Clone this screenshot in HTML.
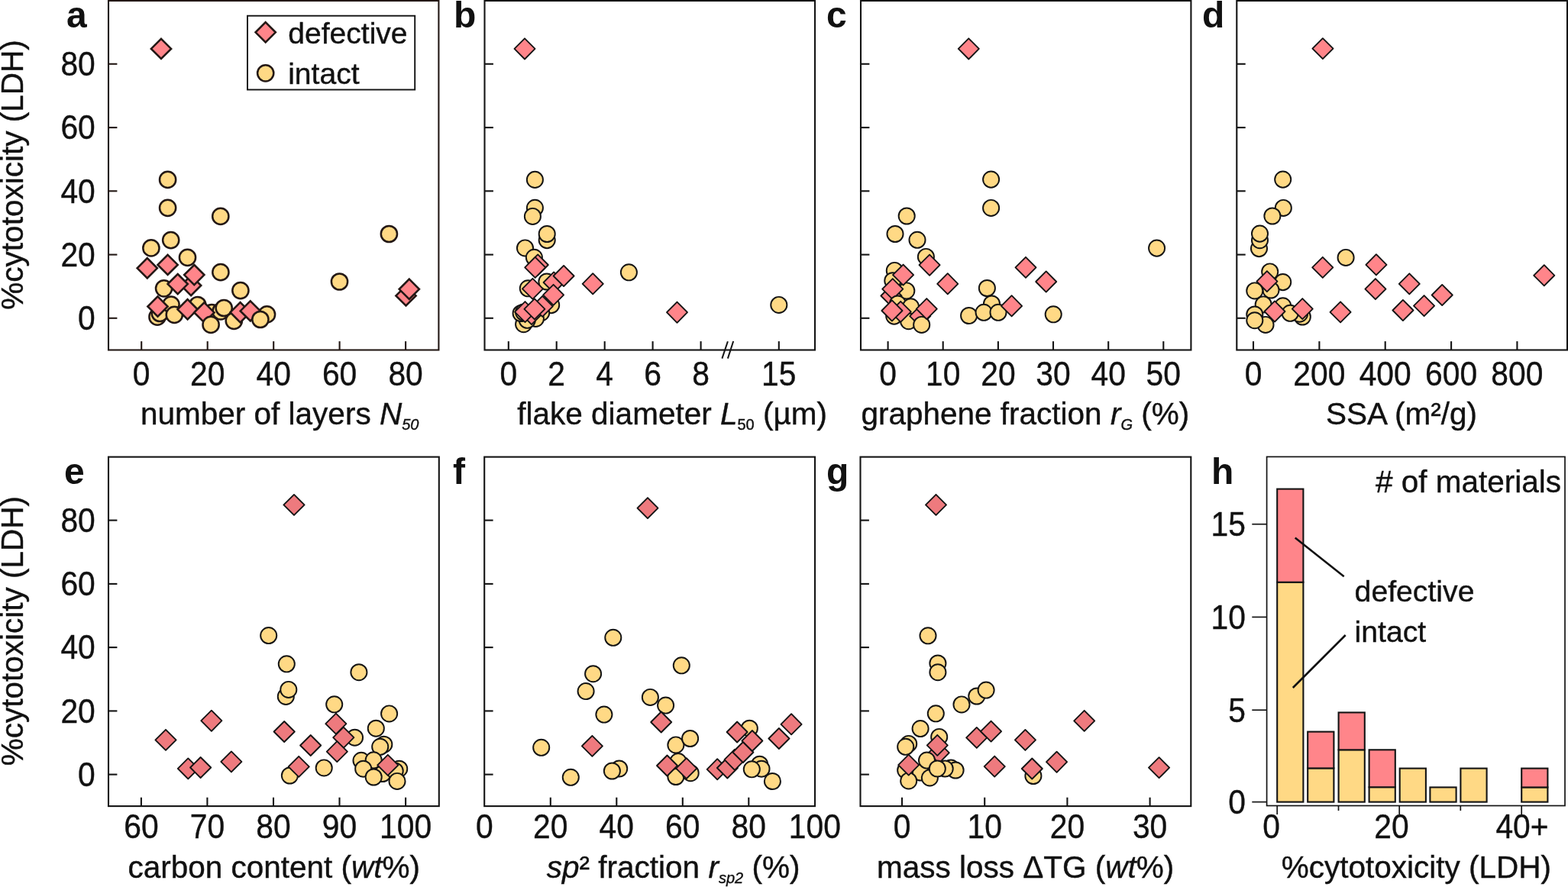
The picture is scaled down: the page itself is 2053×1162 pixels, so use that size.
<!DOCTYPE html>
<html><head><meta charset="utf-8"><title>Figure</title>
<style>
html,body{margin:0;padding:0;background:#fff;}
body{width:2053px;height:1162px;overflow:hidden;}
svg{display:block;}
text{font-family:"Liberation Sans",Arial,sans-serif;fill:#111111;stroke:#111111;stroke-width:0.4px;}
</style></head>
<body>
<svg width="2053" height="1162" viewBox="0 0 2053 1162">
<rect width="2053" height="1162" fill="#fff"/>
<rect x="142.0" y="1.0" width="432.4" height="457.5" fill="none" stroke="#231815" stroke-width="2.1"/>
<line x1="142.0" y1="416.8" x2="153.4" y2="416.8" stroke="#231815" stroke-width="2.1"/>
<line x1="142.0" y1="333.6" x2="153.4" y2="333.6" stroke="#231815" stroke-width="2.1"/>
<line x1="142.0" y1="250.3" x2="153.4" y2="250.3" stroke="#231815" stroke-width="2.1"/>
<line x1="142.0" y1="167.1" x2="153.4" y2="167.1" stroke="#231815" stroke-width="2.1"/>
<line x1="142.0" y1="83.8" x2="153.4" y2="83.8" stroke="#231815" stroke-width="2.1"/>
<rect x="634.5" y="1.0" width="432.5" height="457.5" fill="none" stroke="#141414" stroke-width="2.1"/>
<line x1="634.5" y1="416.8" x2="645.9" y2="416.8" stroke="#141414" stroke-width="2.1"/>
<line x1="634.5" y1="333.6" x2="645.9" y2="333.6" stroke="#141414" stroke-width="2.1"/>
<line x1="634.5" y1="250.3" x2="645.9" y2="250.3" stroke="#141414" stroke-width="2.1"/>
<line x1="634.5" y1="167.1" x2="645.9" y2="167.1" stroke="#141414" stroke-width="2.1"/>
<line x1="634.5" y1="83.8" x2="645.9" y2="83.8" stroke="#141414" stroke-width="2.1"/>
<rect x="1127.0" y="1.0" width="432.4" height="457.5" fill="none" stroke="#141414" stroke-width="2.1"/>
<line x1="1127.0" y1="416.8" x2="1138.4" y2="416.8" stroke="#141414" stroke-width="2.1"/>
<line x1="1127.0" y1="333.6" x2="1138.4" y2="333.6" stroke="#141414" stroke-width="2.1"/>
<line x1="1127.0" y1="250.3" x2="1138.4" y2="250.3" stroke="#141414" stroke-width="2.1"/>
<line x1="1127.0" y1="167.1" x2="1138.4" y2="167.1" stroke="#141414" stroke-width="2.1"/>
<line x1="1127.0" y1="83.8" x2="1138.4" y2="83.8" stroke="#141414" stroke-width="2.1"/>
<rect x="1619.3" y="1.0" width="432.7" height="457.5" fill="none" stroke="#141414" stroke-width="2.1"/>
<line x1="1619.3" y1="416.8" x2="1630.7" y2="416.8" stroke="#141414" stroke-width="2.1"/>
<line x1="1619.3" y1="333.6" x2="1630.7" y2="333.6" stroke="#141414" stroke-width="2.1"/>
<line x1="1619.3" y1="250.3" x2="1630.7" y2="250.3" stroke="#141414" stroke-width="2.1"/>
<line x1="1619.3" y1="167.1" x2="1630.7" y2="167.1" stroke="#141414" stroke-width="2.1"/>
<line x1="1619.3" y1="83.8" x2="1630.7" y2="83.8" stroke="#141414" stroke-width="2.1"/>
<rect x="142.0" y="598.6" width="432.8" height="457.5" fill="none" stroke="#141414" stroke-width="2.1"/>
<line x1="142.0" y1="1014.6" x2="153.4" y2="1014.6" stroke="#141414" stroke-width="2.1"/>
<line x1="142.0" y1="931.4" x2="153.4" y2="931.4" stroke="#141414" stroke-width="2.1"/>
<line x1="142.0" y1="848.1" x2="153.4" y2="848.1" stroke="#141414" stroke-width="2.1"/>
<line x1="142.0" y1="764.9" x2="153.4" y2="764.9" stroke="#141414" stroke-width="2.1"/>
<line x1="142.0" y1="681.6" x2="153.4" y2="681.6" stroke="#141414" stroke-width="2.1"/>
<rect x="634.2" y="598.6" width="432.8" height="457.5" fill="none" stroke="#141414" stroke-width="2.1"/>
<line x1="634.2" y1="1014.6" x2="645.6" y2="1014.6" stroke="#141414" stroke-width="2.1"/>
<line x1="634.2" y1="931.4" x2="645.6" y2="931.4" stroke="#141414" stroke-width="2.1"/>
<line x1="634.2" y1="848.1" x2="645.6" y2="848.1" stroke="#141414" stroke-width="2.1"/>
<line x1="634.2" y1="764.9" x2="645.6" y2="764.9" stroke="#141414" stroke-width="2.1"/>
<line x1="634.2" y1="681.6" x2="645.6" y2="681.6" stroke="#141414" stroke-width="2.1"/>
<rect x="1126.5" y="598.6" width="432.8" height="457.5" fill="none" stroke="#141414" stroke-width="2.1"/>
<line x1="1126.5" y1="1014.6" x2="1137.9" y2="1014.6" stroke="#141414" stroke-width="2.1"/>
<line x1="1126.5" y1="931.4" x2="1137.9" y2="931.4" stroke="#141414" stroke-width="2.1"/>
<line x1="1126.5" y1="848.1" x2="1137.9" y2="848.1" stroke="#141414" stroke-width="2.1"/>
<line x1="1126.5" y1="764.9" x2="1137.9" y2="764.9" stroke="#141414" stroke-width="2.1"/>
<line x1="1126.5" y1="681.6" x2="1137.9" y2="681.6" stroke="#141414" stroke-width="2.1"/>
<line x1="185.2" y1="458.5" x2="185.2" y2="447.1" stroke="#231815" stroke-width="2.1"/>
<text transform="translate(185.2,504.6) scale(0.932,1)" text-anchor="middle" font-size="43.8">0</text>
<line x1="271.7" y1="458.5" x2="271.7" y2="447.1" stroke="#231815" stroke-width="2.1"/>
<text transform="translate(271.7,504.6) scale(0.932,1)" text-anchor="middle" font-size="43.8">20</text>
<line x1="358.2" y1="458.5" x2="358.2" y2="447.1" stroke="#231815" stroke-width="2.1"/>
<text transform="translate(358.2,504.6) scale(0.932,1)" text-anchor="middle" font-size="43.8">40</text>
<line x1="444.6" y1="458.5" x2="444.6" y2="447.1" stroke="#231815" stroke-width="2.1"/>
<text transform="translate(444.6,504.6) scale(0.932,1)" text-anchor="middle" font-size="43.8">60</text>
<line x1="531.1" y1="458.5" x2="531.1" y2="447.1" stroke="#231815" stroke-width="2.1"/>
<text transform="translate(531.1,504.6) scale(0.932,1)" text-anchor="middle" font-size="43.8">80</text>
<line x1="665.8" y1="458.5" x2="665.8" y2="447.1" stroke="#141414" stroke-width="2.1"/>
<text transform="translate(665.8,504.6) scale(0.932,1)" text-anchor="middle" font-size="43.8">0</text>
<line x1="728.7" y1="458.5" x2="728.7" y2="447.1" stroke="#141414" stroke-width="2.1"/>
<text transform="translate(728.7,504.6) scale(0.932,1)" text-anchor="middle" font-size="43.8">2</text>
<line x1="791.7" y1="458.5" x2="791.7" y2="447.1" stroke="#141414" stroke-width="2.1"/>
<text transform="translate(791.7,504.6) scale(0.932,1)" text-anchor="middle" font-size="43.8">4</text>
<line x1="854.6" y1="458.5" x2="854.6" y2="447.1" stroke="#141414" stroke-width="2.1"/>
<text transform="translate(854.6,504.6) scale(0.932,1)" text-anchor="middle" font-size="43.8">6</text>
<line x1="917.6" y1="458.5" x2="917.6" y2="447.1" stroke="#141414" stroke-width="2.1"/>
<text transform="translate(917.6,504.6) scale(0.932,1)" text-anchor="middle" font-size="43.8">8</text>
<line x1="1019.8" y1="458.5" x2="1019.8" y2="447.1" stroke="#141414" stroke-width="2.1"/>
<text transform="translate(1019.8,504.6) scale(0.932,1)" text-anchor="middle" font-size="43.8">15</text>
<line x1="1162.6" y1="458.5" x2="1162.6" y2="447.1" stroke="#141414" stroke-width="2.1"/>
<text transform="translate(1162.6,504.6) scale(0.932,1)" text-anchor="middle" font-size="43.8">0</text>
<line x1="1234.7" y1="458.5" x2="1234.7" y2="447.1" stroke="#141414" stroke-width="2.1"/>
<text transform="translate(1234.7,504.6) scale(0.932,1)" text-anchor="middle" font-size="43.8">10</text>
<line x1="1306.9" y1="458.5" x2="1306.9" y2="447.1" stroke="#141414" stroke-width="2.1"/>
<text transform="translate(1306.9,504.6) scale(0.932,1)" text-anchor="middle" font-size="43.8">20</text>
<line x1="1379.0" y1="458.5" x2="1379.0" y2="447.1" stroke="#141414" stroke-width="2.1"/>
<text transform="translate(1379.0,504.6) scale(0.932,1)" text-anchor="middle" font-size="43.8">30</text>
<line x1="1451.2" y1="458.5" x2="1451.2" y2="447.1" stroke="#141414" stroke-width="2.1"/>
<text transform="translate(1451.2,504.6) scale(0.932,1)" text-anchor="middle" font-size="43.8">40</text>
<line x1="1523.3" y1="458.5" x2="1523.3" y2="447.1" stroke="#141414" stroke-width="2.1"/>
<text transform="translate(1523.3,504.6) scale(0.932,1)" text-anchor="middle" font-size="43.8">50</text>
<line x1="1641.0" y1="458.5" x2="1641.0" y2="447.1" stroke="#141414" stroke-width="2.1"/>
<text transform="translate(1641.0,504.6) scale(0.932,1)" text-anchor="middle" font-size="43.8">0</text>
<line x1="1727.4" y1="458.5" x2="1727.4" y2="447.1" stroke="#141414" stroke-width="2.1"/>
<text transform="translate(1727.4,504.6) scale(0.932,1)" text-anchor="middle" font-size="43.8">200</text>
<line x1="1813.7" y1="458.5" x2="1813.7" y2="447.1" stroke="#141414" stroke-width="2.1"/>
<text transform="translate(1813.7,504.6) scale(0.932,1)" text-anchor="middle" font-size="43.8">400</text>
<line x1="1900.1" y1="458.5" x2="1900.1" y2="447.1" stroke="#141414" stroke-width="2.1"/>
<text transform="translate(1900.1,504.6) scale(0.932,1)" text-anchor="middle" font-size="43.8">600</text>
<line x1="1986.4" y1="458.5" x2="1986.4" y2="447.1" stroke="#141414" stroke-width="2.1"/>
<text transform="translate(1986.4,504.6) scale(0.932,1)" text-anchor="middle" font-size="43.8">800</text>
<line x1="184.9" y1="1056.1" x2="184.9" y2="1044.6999999999998" stroke="#141414" stroke-width="2.1"/>
<text transform="translate(184.9,1098.2) scale(0.932,1)" text-anchor="middle" font-size="43.8">60</text>
<line x1="271.4" y1="1056.1" x2="271.4" y2="1044.6999999999998" stroke="#141414" stroke-width="2.1"/>
<text transform="translate(271.4,1098.2) scale(0.932,1)" text-anchor="middle" font-size="43.8">70</text>
<line x1="358.0" y1="1056.1" x2="358.0" y2="1044.6999999999998" stroke="#141414" stroke-width="2.1"/>
<text transform="translate(358.0,1098.2) scale(0.932,1)" text-anchor="middle" font-size="43.8">80</text>
<line x1="444.5" y1="1056.1" x2="444.5" y2="1044.6999999999998" stroke="#141414" stroke-width="2.1"/>
<text transform="translate(444.5,1098.2) scale(0.932,1)" text-anchor="middle" font-size="43.8">90</text>
<line x1="531.1" y1="1056.1" x2="531.1" y2="1044.6999999999998" stroke="#141414" stroke-width="2.1"/>
<text transform="translate(531.1,1098.2) scale(0.932,1)" text-anchor="middle" font-size="43.8">100</text>
<text transform="translate(634.3,1098.2) scale(0.932,1)" text-anchor="middle" font-size="43.8">0</text>
<line x1="720.8" y1="1056.1" x2="720.8" y2="1044.6999999999998" stroke="#141414" stroke-width="2.1"/>
<text transform="translate(720.8,1098.2) scale(0.932,1)" text-anchor="middle" font-size="43.8">20</text>
<line x1="807.3" y1="1056.1" x2="807.3" y2="1044.6999999999998" stroke="#141414" stroke-width="2.1"/>
<text transform="translate(807.3,1098.2) scale(0.932,1)" text-anchor="middle" font-size="43.8">40</text>
<line x1="893.8" y1="1056.1" x2="893.8" y2="1044.6999999999998" stroke="#141414" stroke-width="2.1"/>
<text transform="translate(893.8,1098.2) scale(0.932,1)" text-anchor="middle" font-size="43.8">60</text>
<line x1="980.3" y1="1056.1" x2="980.3" y2="1044.6999999999998" stroke="#141414" stroke-width="2.1"/>
<text transform="translate(980.3,1098.2) scale(0.932,1)" text-anchor="middle" font-size="43.8">80</text>
<text transform="translate(1066.8,1098.2) scale(0.932,1)" text-anchor="middle" font-size="43.8">100</text>
<line x1="1181.0" y1="1056.1" x2="1181.0" y2="1044.6999999999998" stroke="#141414" stroke-width="2.1"/>
<text transform="translate(1181.0,1098.2) scale(0.932,1)" text-anchor="middle" font-size="43.8">0</text>
<line x1="1289.2" y1="1056.1" x2="1289.2" y2="1044.6999999999998" stroke="#141414" stroke-width="2.1"/>
<text transform="translate(1289.2,1098.2) scale(0.932,1)" text-anchor="middle" font-size="43.8">10</text>
<line x1="1397.4" y1="1056.1" x2="1397.4" y2="1044.6999999999998" stroke="#141414" stroke-width="2.1"/>
<text transform="translate(1397.4,1098.2) scale(0.932,1)" text-anchor="middle" font-size="43.8">20</text>
<line x1="1505.6" y1="1056.1" x2="1505.6" y2="1044.6999999999998" stroke="#141414" stroke-width="2.1"/>
<text transform="translate(1505.6,1098.2) scale(0.932,1)" text-anchor="middle" font-size="43.8">30</text>
<text transform="translate(124.8,432.1) scale(0.932,1)" text-anchor="end" font-size="43.8">0</text>
<text transform="translate(124.8,348.9) scale(0.932,1)" text-anchor="end" font-size="43.8">20</text>
<text transform="translate(124.8,265.6) scale(0.932,1)" text-anchor="end" font-size="43.8">40</text>
<text transform="translate(124.8,182.4) scale(0.932,1)" text-anchor="end" font-size="43.8">60</text>
<text transform="translate(124.8,99.1) scale(0.932,1)" text-anchor="end" font-size="43.8">80</text>
<text transform="translate(124.8,1029.9) scale(0.932,1)" text-anchor="end" font-size="43.8">0</text>
<text transform="translate(124.8,946.6) scale(0.932,1)" text-anchor="end" font-size="43.8">20</text>
<text transform="translate(124.8,863.4) scale(0.932,1)" text-anchor="end" font-size="43.8">40</text>
<text transform="translate(124.8,780.1) scale(0.932,1)" text-anchor="end" font-size="43.8">60</text>
<text transform="translate(124.8,696.9) scale(0.932,1)" text-anchor="end" font-size="43.8">80</text>
<text transform="translate(29.9,229) rotate(-90)" text-anchor="middle" font-size="40.5">%cytotoxicity (LDH)</text>
<text transform="translate(29.9,826.6) rotate(-90)" text-anchor="middle" font-size="40.5">%cytotoxicity (LDH)</text>
<text x="184" y="555.9" font-size="40.5">number of layers <tspan font-style="italic">N</tspan><tspan font-style="italic" font-size="20" dy="7">50</tspan></text>
<text x="677.3" y="555.5" font-size="40.5">flake diameter <tspan font-style="italic">L</tspan><tspan font-size="20" dy="7">50</tspan><tspan dy="-7"> (µm)</tspan></text>
<text x="1127.4" y="556.2" font-size="40.5">graphene fraction <tspan font-style="italic">r</tspan><tspan font-style="italic" font-size="20" dy="7">G</tspan><tspan dy="-7"> (%)</tspan></text>
<text x="1736" y="556.2" font-size="40.5">SSA (m²/g)</text>
<text x="167.4" y="1149.6" font-size="40.5">carbon content (<tspan font-style="italic">wt</tspan>%)</text>
<text x="715.8" y="1149.9" font-size="40.5"><tspan font-style="italic">sp</tspan>² fraction <tspan font-style="italic">r</tspan><tspan font-style="italic" font-size="20" dy="7">sp2</tspan><tspan dy="-7"> (%)</tspan></text>
<text x="1148" y="1149.6" font-size="40.5">mass loss ΔTG (<tspan font-style="italic">wt</tspan>%)</text>
<text x="1677.8" y="1149.8" font-size="40.5">%cytotoxicity (LDH)</text>
<text x="87" y="35.6" font-size="48" font-weight="bold" style="stroke:none">a</text>
<text x="594" y="35.6" font-size="48" font-weight="bold" style="stroke:none">b</text>
<text x="1082" y="35.6" font-size="48" font-weight="bold" style="stroke:none">c</text>
<text x="1574" y="35.6" font-size="48" font-weight="bold" style="stroke:none">d</text>
<text x="84" y="633.5" font-size="48" font-weight="bold" style="stroke:none">e</text>
<text x="593" y="633.5" font-size="48" font-weight="bold" style="stroke:none">f</text>
<text x="1082" y="633.5" font-size="48" font-weight="bold" style="stroke:none">g</text>
<text x="1586" y="633.5" font-size="48" font-weight="bold" style="stroke:none">h</text>
<rect x="1658.6" y="598.4" width="390.4" height="457.1" fill="none" stroke="#141414" stroke-width="1.7"/>
<line x1="1639.3" y1="1050.6" x2="1658.6" y2="1050.6" stroke="#141414" stroke-width="1.7"/>
<text transform="translate(1631.0,1065.9) scale(0.932,1)" text-anchor="end" font-size="43.8">0</text>
<line x1="1639.3" y1="930.2" x2="1658.6" y2="930.2" stroke="#141414" stroke-width="1.7"/>
<text transform="translate(1631.0,945.5) scale(0.932,1)" text-anchor="end" font-size="43.8">5</text>
<line x1="1639.3" y1="808.4" x2="1658.6" y2="808.4" stroke="#141414" stroke-width="1.7"/>
<text transform="translate(1631.0,823.7) scale(0.932,1)" text-anchor="end" font-size="43.8">10</text>
<line x1="1639.3" y1="686.7" x2="1658.6" y2="686.7" stroke="#141414" stroke-width="1.7"/>
<text transform="translate(1631.0,702.0) scale(0.932,1)" text-anchor="end" font-size="43.8">15</text>
<line x1="1672.2" y1="1055.5" x2="1672.2" y2="1067.0" stroke="#141414" stroke-width="1.7"/>
<line x1="1752.5" y1="1055.5" x2="1752.5" y2="1062.0" stroke="#141414" stroke-width="1.7"/>
<line x1="1832.2" y1="1055.5" x2="1832.2" y2="1067.0" stroke="#141414" stroke-width="1.7"/>
<line x1="1912.3" y1="1055.5" x2="1912.3" y2="1062.0" stroke="#141414" stroke-width="1.7"/>
<line x1="1992.2" y1="1055.5" x2="1992.2" y2="1067.0" stroke="#141414" stroke-width="1.7"/>
<text transform="translate(1664.5,1097.9) scale(0.932,1)" text-anchor="middle" font-size="43.8">0</text>
<text transform="translate(1822.0,1097.9) scale(0.932,1)" text-anchor="middle" font-size="43.8">20</text>
<text transform="translate(1993.0,1097.9) scale(0.932,1)" text-anchor="middle" font-size="43.8">40+</text>
<rect x="1672.2" y="762.7" width="34.2" height="287.9" fill="#FFD985" stroke="#141414" stroke-width="2.1"/>
<rect x="1672.2" y="640.6" width="34.2" height="122.1" fill="#FF858A" stroke="#141414" stroke-width="2.1"/>
<rect x="1712.2" y="1006.4" width="34.2" height="44.2" fill="#FFD985" stroke="#141414" stroke-width="2.1"/>
<rect x="1712.2" y="958.6" width="34.2" height="47.8" fill="#FF858A" stroke="#141414" stroke-width="2.1"/>
<rect x="1752.6" y="982.3" width="34.2" height="68.3" fill="#FFD985" stroke="#141414" stroke-width="2.1"/>
<rect x="1752.6" y="933.4" width="34.2" height="48.9" fill="#FF858A" stroke="#141414" stroke-width="2.1"/>
<rect x="1792.6" y="1031.2" width="34.2" height="19.4" fill="#FFD985" stroke="#141414" stroke-width="2.1"/>
<rect x="1792.6" y="982.3" width="34.2" height="48.9" fill="#FF858A" stroke="#141414" stroke-width="2.1"/>
<rect x="1832.7" y="1006.6" width="34.2" height="44.0" fill="#FFD985" stroke="#141414" stroke-width="2.1"/>
<rect x="1872.4" y="1031.4" width="34.2" height="19.2" fill="#FFD985" stroke="#141414" stroke-width="2.1"/>
<rect x="1912.4" y="1006.6" width="34.2" height="44.0" fill="#FFD985" stroke="#141414" stroke-width="2.1"/>
<rect x="1992.2" y="1031.4" width="34.2" height="19.2" fill="#FFD985" stroke="#141414" stroke-width="2.1"/>
<rect x="1992.2" y="1006.6" width="34.2" height="24.8" fill="#FF858A" stroke="#141414" stroke-width="2.1"/>
<line x1="1695.7" y1="704.6" x2="1759.7" y2="755.2" stroke="#111111" stroke-width="2.6"/>
<line x1="1761.7" y1="832" x2="1692.8" y2="901" stroke="#111111" stroke-width="2.6"/>
<text x="1773.6" y="787.5" font-size="39.2">defective</text>
<text x="1773.6" y="840.7" font-size="39.2">intact</text>
<text x="1801" y="645.2" font-size="40.5"># of materials</text>
<circle cx="219.6" cy="235.4" r="10.6" fill="#FFD985" stroke="#231815" stroke-width="2.5"/>
<circle cx="219.6" cy="272.3" r="10.6" fill="#FFD985" stroke="#231815" stroke-width="2.5"/>
<circle cx="288.8" cy="283.4" r="10.6" fill="#FFD985" stroke="#231815" stroke-width="2.5"/>
<circle cx="509.4" cy="306.5" r="10.6" fill="#FFD985" stroke="#231815" stroke-width="2.5"/>
<circle cx="223.7" cy="314.6" r="10.6" fill="#FFD985" stroke="#231815" stroke-width="2.5"/>
<circle cx="197.9" cy="324.9" r="10.6" fill="#FFD985" stroke="#231815" stroke-width="2.5"/>
<circle cx="245.5" cy="337.3" r="10.6" fill="#FFD985" stroke="#231815" stroke-width="2.5"/>
<circle cx="288.9" cy="356.7" r="10.6" fill="#FFD985" stroke="#231815" stroke-width="2.5"/>
<circle cx="444.5" cy="369.0" r="10.6" fill="#FFD985" stroke="#231815" stroke-width="2.5"/>
<path d="M192.8 338.2L205.9 351.3L192.8 364.4L179.7 351.3Z" fill="#FF858A" stroke="#231815" stroke-width="2.6" stroke-linejoin="miter"/>
<path d="M219.6 333.8L232.7 346.9L219.6 360.0L206.5 346.9Z" fill="#FF858A" stroke="#231815" stroke-width="2.6" stroke-linejoin="miter"/>
<circle cx="314.9" cy="380.6" r="10.6" fill="#FFD985" stroke="#231815" stroke-width="2.5"/>
<path d="M250.1 360.9L263.2 374.0L250.1 387.1L237.0 374.0Z" fill="#FF858A" stroke="#231815" stroke-width="2.6" stroke-linejoin="miter"/>
<path d="M254.3 347.0L267.4 360.1L254.3 373.2L241.2 360.1Z" fill="#FF858A" stroke="#231815" stroke-width="2.6" stroke-linejoin="miter"/>
<circle cx="214.6" cy="377.8" r="10.6" fill="#FFD985" stroke="#231815" stroke-width="2.5"/>
<path d="M232.7 359.0L245.8 372.1L232.7 385.2L219.6 372.1Z" fill="#FF858A" stroke="#231815" stroke-width="2.6" stroke-linejoin="miter"/>
<circle cx="206.0" cy="415.2" r="10.6" fill="#FFD985" stroke="#231815" stroke-width="2.5"/>
<circle cx="209.3" cy="410.5" r="10.6" fill="#FFD985" stroke="#231815" stroke-width="2.5"/>
<circle cx="224.0" cy="399.1" r="10.6" fill="#FFD985" stroke="#231815" stroke-width="2.5"/>
<circle cx="228.3" cy="412.4" r="10.6" fill="#FFD985" stroke="#231815" stroke-width="2.5"/>
<path d="M206.5 388.4L219.6 401.5L206.5 414.6L193.4 401.5Z" fill="#FF858A" stroke="#231815" stroke-width="2.6" stroke-linejoin="miter"/>
<circle cx="258.8" cy="399.5" r="10.6" fill="#FFD985" stroke="#231815" stroke-width="2.5"/>
<circle cx="277.2" cy="409.7" r="10.6" fill="#FFD985" stroke="#231815" stroke-width="2.5"/>
<circle cx="289.0" cy="407.9" r="10.6" fill="#FFD985" stroke="#231815" stroke-width="2.5"/>
<path d="M245.6 392.2L258.7 405.3L245.6 418.4L232.5 405.3Z" fill="#FF858A" stroke="#231815" stroke-width="2.6" stroke-linejoin="miter"/>
<path d="M267.4 396.3L280.5 409.4L267.4 422.5L254.3 409.4Z" fill="#FF858A" stroke="#231815" stroke-width="2.6" stroke-linejoin="miter"/>
<circle cx="293.2" cy="403.5" r="10.6" fill="#FFD985" stroke="#231815" stroke-width="2.5"/>
<circle cx="276.1" cy="425.4" r="10.6" fill="#FFD985" stroke="#231815" stroke-width="2.5"/>
<circle cx="306.3" cy="420.3" r="10.6" fill="#FFD985" stroke="#231815" stroke-width="2.5"/>
<path d="M314.6 396.1L327.7 409.2L314.6 422.3L301.5 409.2Z" fill="#FF858A" stroke="#231815" stroke-width="2.6" stroke-linejoin="miter"/>
<circle cx="349.5" cy="411.9" r="10.6" fill="#FFD985" stroke="#231815" stroke-width="2.5"/>
<path d="M327.8 394.3L340.9 407.4L327.8 420.5L314.7 407.4Z" fill="#FF858A" stroke="#231815" stroke-width="2.6" stroke-linejoin="miter"/>
<circle cx="340.9" cy="418.5" r="10.6" fill="#FFD985" stroke="#231815" stroke-width="2.5"/>
<path d="M531.5 374.3L544.6 387.4L531.5 400.5L518.4 387.4Z" fill="#FF858A" stroke="#231815" stroke-width="2.6" stroke-linejoin="miter"/>
<path d="M535.8 365.7L548.9 378.8L535.8 391.9L522.7 378.8Z" fill="#FF858A" stroke="#231815" stroke-width="2.6" stroke-linejoin="miter"/>
<path d="M211.0 50.8L224.1 63.9L211.0 77.0L197.9 63.9Z" fill="#FF858A" stroke="#231815" stroke-width="2.6" stroke-linejoin="miter"/>
<circle cx="700.4" cy="235.4" r="10.55" fill="#FFD985" stroke="#141414" stroke-width="1.95"/>
<circle cx="700.4" cy="272.3" r="10.55" fill="#FFD985" stroke="#141414" stroke-width="1.95"/>
<circle cx="697.4" cy="283.4" r="10.55" fill="#FFD985" stroke="#141414" stroke-width="1.95"/>
<circle cx="716.2" cy="314.6" r="10.55" fill="#FFD985" stroke="#141414" stroke-width="1.95"/>
<circle cx="716.2" cy="306.5" r="10.55" fill="#FFD985" stroke="#141414" stroke-width="1.95"/>
<circle cx="687.5" cy="324.9" r="10.55" fill="#FFD985" stroke="#141414" stroke-width="1.95"/>
<circle cx="699.4" cy="337.3" r="10.55" fill="#FFD985" stroke="#141414" stroke-width="1.95"/>
<circle cx="823.4" cy="356.8" r="10.55" fill="#FFD985" stroke="#141414" stroke-width="1.95"/>
<circle cx="1019.8" cy="399.4" r="10.55" fill="#FFD985" stroke="#141414" stroke-width="1.95"/>
<path d="M704.2 333.4L717.8 347.0L704.2 360.6L690.7 347.0Z" fill="#FF858A" stroke="#141414" stroke-width="1.9" stroke-linejoin="round"/>
<path d="M700.7 336.8L714.2 350.4L700.7 363.9L687.2 350.4Z" fill="#FF858A" stroke="#141414" stroke-width="1.9" stroke-linejoin="round"/>
<circle cx="715.9" cy="369.0" r="10.55" fill="#FFD985" stroke="#141414" stroke-width="1.95"/>
<circle cx="691.3" cy="377.8" r="10.55" fill="#FFD985" stroke="#141414" stroke-width="1.95"/>
<path d="M725.1 356.4L738.6 370.0L725.1 383.6L711.6 370.0Z" fill="#FF858A" stroke="#141414" stroke-width="1.9" stroke-linejoin="round"/>
<path d="M738.1 347.9L751.6 361.5L738.1 375.1L724.6 361.5Z" fill="#FF858A" stroke="#141414" stroke-width="1.9" stroke-linejoin="round"/>
<path d="M697.4 364.8L710.9 378.3L697.4 391.9L683.9 378.3Z" fill="#FF858A" stroke="#141414" stroke-width="1.9" stroke-linejoin="round"/>
<circle cx="721.7" cy="399.6" r="10.55" fill="#FFD985" stroke="#141414" stroke-width="1.95"/>
<circle cx="708.7" cy="409.7" r="10.55" fill="#FFD985" stroke="#141414" stroke-width="1.95"/>
<circle cx="701.4" cy="417.4" r="10.55" fill="#FFD985" stroke="#141414" stroke-width="1.95"/>
<circle cx="685.6" cy="424.7" r="10.55" fill="#FFD985" stroke="#141414" stroke-width="1.95"/>
<circle cx="690.3" cy="419.3" r="10.55" fill="#FFD985" stroke="#141414" stroke-width="1.95"/>
<circle cx="682.1" cy="410.5" r="10.55" fill="#FFD985" stroke="#141414" stroke-width="1.95"/>
<circle cx="685.6" cy="409.1" r="10.55" fill="#FFD985" stroke="#141414" stroke-width="1.95"/>
<path d="M696.0 397.9L709.5 411.5L696.0 425.1L682.5 411.5Z" fill="#FF858A" stroke="#141414" stroke-width="1.9" stroke-linejoin="round"/>
<path d="M724.6 372.8L738.1 386.3L724.6 399.9L711.1 386.3Z" fill="#FF858A" stroke="#141414" stroke-width="1.9" stroke-linejoin="round"/>
<path d="M710.2 387.8L723.8 401.4L710.2 414.9L696.7 401.4Z" fill="#FF858A" stroke="#141414" stroke-width="1.9" stroke-linejoin="round"/>
<path d="M687.5 395.1L701.0 408.7L687.5 422.2L674.0 408.7Z" fill="#FF858A" stroke="#141414" stroke-width="1.9" stroke-linejoin="round"/>
<path d="M699.9 391.3L713.4 404.9L699.9 418.4L686.4 404.9Z" fill="#FF858A" stroke="#141414" stroke-width="1.9" stroke-linejoin="round"/>
<path d="M776.2 358.2L789.8 371.8L776.2 385.4L762.7 371.8Z" fill="#FF858A" stroke="#141414" stroke-width="1.9" stroke-linejoin="round"/>
<path d="M886.5 395.6L900.0 409.2L886.5 422.8L873.0 409.2Z" fill="#FF858A" stroke="#141414" stroke-width="1.9" stroke-linejoin="round"/>
<path d="M687.0 50.3L700.5 63.9L687.0 77.5L673.5 63.9Z" fill="#FF858A" stroke="#141414" stroke-width="1.9" stroke-linejoin="round"/>
<circle cx="1297.6" cy="235.1" r="10.55" fill="#FFD985" stroke="#141414" stroke-width="1.95"/>
<circle cx="1297.6" cy="272.4" r="10.55" fill="#FFD985" stroke="#141414" stroke-width="1.95"/>
<circle cx="1187.2" cy="283.0" r="10.55" fill="#FFD985" stroke="#141414" stroke-width="1.95"/>
<circle cx="1172.0" cy="306.5" r="10.55" fill="#FFD985" stroke="#141414" stroke-width="1.95"/>
<circle cx="1201.0" cy="314.3" r="10.55" fill="#FFD985" stroke="#141414" stroke-width="1.95"/>
<circle cx="1514.6" cy="325.1" r="10.55" fill="#FFD985" stroke="#141414" stroke-width="1.95"/>
<circle cx="1212.4" cy="336.4" r="10.55" fill="#FFD985" stroke="#141414" stroke-width="1.95"/>
<circle cx="1171.3" cy="354.4" r="10.55" fill="#FFD985" stroke="#141414" stroke-width="1.95"/>
<circle cx="1168.8" cy="367.7" r="10.55" fill="#FFD985" stroke="#141414" stroke-width="1.95"/>
<circle cx="1186.8" cy="380.9" r="10.55" fill="#FFD985" stroke="#141414" stroke-width="1.95"/>
<circle cx="1292.4" cy="377.5" r="10.55" fill="#FFD985" stroke="#141414" stroke-width="1.95"/>
<path d="M1217.1 333.6L1230.6 347.2L1217.1 360.8L1203.5 347.2Z" fill="#FF858A" stroke="#141414" stroke-width="1.9" stroke-linejoin="round"/>
<path d="M1182.6 346.6L1196.1 360.1L1182.6 373.7L1169.0 360.1Z" fill="#FF858A" stroke="#141414" stroke-width="1.9" stroke-linejoin="round"/>
<path d="M1240.8 358.2L1254.3 371.8L1240.8 385.4L1227.2 371.8Z" fill="#FF858A" stroke="#141414" stroke-width="1.9" stroke-linejoin="round"/>
<path d="M1343.0 336.8L1356.5 350.3L1343.0 363.9L1329.5 350.3Z" fill="#FF858A" stroke="#141414" stroke-width="1.9" stroke-linejoin="round"/>
<path d="M1369.7 355.4L1383.2 369.0L1369.7 382.6L1356.2 369.0Z" fill="#FF858A" stroke="#141414" stroke-width="1.9" stroke-linejoin="round"/>
<path d="M1166.9 373.9L1180.5 387.5L1166.9 401.1L1153.4 387.5Z" fill="#FF858A" stroke="#141414" stroke-width="1.9" stroke-linejoin="round"/>
<path d="M1168.8 365.1L1182.3 378.7L1168.8 392.2L1155.2 378.7Z" fill="#FF858A" stroke="#141414" stroke-width="1.9" stroke-linejoin="round"/>
<circle cx="1175.4" cy="398.0" r="10.55" fill="#FFD985" stroke="#141414" stroke-width="1.95"/>
<circle cx="1192.5" cy="401.8" r="10.55" fill="#FFD985" stroke="#141414" stroke-width="1.95"/>
<circle cx="1298.5" cy="398.0" r="10.55" fill="#FFD985" stroke="#141414" stroke-width="1.95"/>
<circle cx="1170.7" cy="414.1" r="10.55" fill="#FFD985" stroke="#141414" stroke-width="1.95"/>
<circle cx="1189.6" cy="420.7" r="10.55" fill="#FFD985" stroke="#141414" stroke-width="1.95"/>
<path d="M1204.8 400.6L1218.3 414.1L1204.8 427.7L1191.2 414.1Z" fill="#FF858A" stroke="#141414" stroke-width="1.9" stroke-linejoin="round"/>
<circle cx="1206.7" cy="425.4" r="10.55" fill="#FFD985" stroke="#141414" stroke-width="1.95"/>
<path d="M1213.3 391.1L1226.8 404.6L1213.3 418.2L1199.8 404.6Z" fill="#FF858A" stroke="#141414" stroke-width="1.9" stroke-linejoin="round"/>
<path d="M1179.2 394.8L1192.8 408.4L1179.2 421.9L1165.7 408.4Z" fill="#FF858A" stroke="#141414" stroke-width="1.9" stroke-linejoin="round"/>
<path d="M1167.9 393.4L1181.5 407.0L1167.9 420.6L1154.4 407.0Z" fill="#FF858A" stroke="#141414" stroke-width="1.9" stroke-linejoin="round"/>
<circle cx="1268.6" cy="413.5" r="10.55" fill="#FFD985" stroke="#141414" stroke-width="1.95"/>
<circle cx="1288.1" cy="409.3" r="10.55" fill="#FFD985" stroke="#141414" stroke-width="1.95"/>
<circle cx="1307.0" cy="409.3" r="10.55" fill="#FFD985" stroke="#141414" stroke-width="1.95"/>
<circle cx="1379.2" cy="411.8" r="10.55" fill="#FFD985" stroke="#141414" stroke-width="1.95"/>
<path d="M1324.6 387.2L1338.1 400.8L1324.6 414.4L1311.0 400.8Z" fill="#FF858A" stroke="#141414" stroke-width="1.9" stroke-linejoin="round"/>
<path d="M1268.3 50.3L1281.8 63.9L1268.3 77.5L1254.8 63.9Z" fill="#FF858A" stroke="#141414" stroke-width="1.9" stroke-linejoin="round"/>
<circle cx="1679.7" cy="235.1" r="10.55" fill="#FFD985" stroke="#141414" stroke-width="1.95"/>
<circle cx="1680.3" cy="272.4" r="10.55" fill="#FFD985" stroke="#141414" stroke-width="1.95"/>
<circle cx="1665.9" cy="283.0" r="10.55" fill="#FFD985" stroke="#141414" stroke-width="1.95"/>
<circle cx="1648.5" cy="325.6" r="10.55" fill="#FFD985" stroke="#141414" stroke-width="1.95"/>
<circle cx="1649.5" cy="314.7" r="10.55" fill="#FFD985" stroke="#141414" stroke-width="1.95"/>
<circle cx="1649.5" cy="306.1" r="10.55" fill="#FFD985" stroke="#141414" stroke-width="1.95"/>
<circle cx="1762.1" cy="337.4" r="10.55" fill="#FFD985" stroke="#141414" stroke-width="1.95"/>
<circle cx="1662.7" cy="355.9" r="10.55" fill="#FFD985" stroke="#141414" stroke-width="1.95"/>
<circle cx="1679.7" cy="369.6" r="10.55" fill="#FFD985" stroke="#141414" stroke-width="1.95"/>
<circle cx="1664.0" cy="380.0" r="10.55" fill="#FFD985" stroke="#141414" stroke-width="1.95"/>
<path d="M1658.9 355.1L1672.5 368.6L1658.9 382.2L1645.4 368.6Z" fill="#FF858A" stroke="#141414" stroke-width="1.9" stroke-linejoin="round"/>
<circle cx="1642.8" cy="380.9" r="10.55" fill="#FFD985" stroke="#141414" stroke-width="1.95"/>
<circle cx="1654.2" cy="398.9" r="10.55" fill="#FFD985" stroke="#141414" stroke-width="1.95"/>
<circle cx="1679.7" cy="400.8" r="10.55" fill="#FFD985" stroke="#141414" stroke-width="1.95"/>
<circle cx="1642.8" cy="412.0" r="10.55" fill="#FFD985" stroke="#141414" stroke-width="1.95"/>
<circle cx="1657.0" cy="425.4" r="10.55" fill="#FFD985" stroke="#141414" stroke-width="1.95"/>
<circle cx="1642.8" cy="419.7" r="10.55" fill="#FFD985" stroke="#141414" stroke-width="1.95"/>
<circle cx="1705.3" cy="415.0" r="10.55" fill="#FFD985" stroke="#141414" stroke-width="1.95"/>
<circle cx="1701.5" cy="411.2" r="10.55" fill="#FFD985" stroke="#141414" stroke-width="1.95"/>
<circle cx="1689.2" cy="410.3" r="10.55" fill="#FFD985" stroke="#141414" stroke-width="1.95"/>
<path d="M1669.0 394.4L1682.5 408.0L1669.0 421.6L1655.5 408.0Z" fill="#FF858A" stroke="#141414" stroke-width="1.9" stroke-linejoin="round"/>
<path d="M1705.3 391.1L1718.8 404.6L1705.3 418.2L1691.8 404.6Z" fill="#FF858A" stroke="#141414" stroke-width="1.9" stroke-linejoin="round"/>
<path d="M1755.1 395.3L1768.6 408.9L1755.1 422.4L1741.5 408.9Z" fill="#FF858A" stroke="#141414" stroke-width="1.9" stroke-linejoin="round"/>
<path d="M1731.8 336.8L1745.3 350.3L1731.8 363.9L1718.2 350.3Z" fill="#FF858A" stroke="#141414" stroke-width="1.9" stroke-linejoin="round"/>
<path d="M1801.9 333.2L1815.5 346.8L1801.9 360.4L1788.4 346.8Z" fill="#FF858A" stroke="#141414" stroke-width="1.9" stroke-linejoin="round"/>
<path d="M1800.9 365.1L1814.5 378.7L1800.9 392.2L1787.4 378.7Z" fill="#FF858A" stroke="#141414" stroke-width="1.9" stroke-linejoin="round"/>
<path d="M1845.3 358.3L1858.8 371.9L1845.3 385.4L1831.8 371.9Z" fill="#FF858A" stroke="#141414" stroke-width="1.9" stroke-linejoin="round"/>
<path d="M1836.9 392.9L1850.5 406.5L1836.9 420.1L1823.4 406.5Z" fill="#FF858A" stroke="#141414" stroke-width="1.9" stroke-linejoin="round"/>
<path d="M1864.6 387.1L1878.1 400.6L1864.6 414.2L1851.0 400.6Z" fill="#FF858A" stroke="#141414" stroke-width="1.9" stroke-linejoin="round"/>
<path d="M1888.2 372.9L1901.8 386.5L1888.2 400.1L1874.7 386.5Z" fill="#FF858A" stroke="#141414" stroke-width="1.9" stroke-linejoin="round"/>
<path d="M2021.8 347.2L2035.3 360.8L2021.8 374.4L2008.2 360.8Z" fill="#FF858A" stroke="#141414" stroke-width="1.9" stroke-linejoin="round"/>
<path d="M1731.9 50.2L1745.5 63.7L1731.9 77.2L1718.4 63.7Z" fill="#FF858A" stroke="#141414" stroke-width="1.9" stroke-linejoin="round"/>
<path d="M385.0 647.9L398.6 661.4L385.0 674.9L371.4 661.4Z" fill="#EE7A7E" stroke="#141414" stroke-width="1.9" stroke-linejoin="round"/>
<circle cx="351.7" cy="832.6" r="10.55" fill="#FFD985" stroke="#141414" stroke-width="1.95"/>
<circle cx="375.3" cy="869.8" r="10.55" fill="#FFD985" stroke="#141414" stroke-width="1.95"/>
<circle cx="374.3" cy="912.4" r="10.55" fill="#FFD985" stroke="#141414" stroke-width="1.95"/>
<circle cx="377.8" cy="903.4" r="10.55" fill="#FFD985" stroke="#141414" stroke-width="1.95"/>
<circle cx="469.9" cy="880.7" r="10.55" fill="#FFD985" stroke="#141414" stroke-width="1.95"/>
<circle cx="437.7" cy="922.8" r="10.55" fill="#FFD985" stroke="#141414" stroke-width="1.95"/>
<circle cx="509.6" cy="934.9" r="10.55" fill="#FFD985" stroke="#141414" stroke-width="1.95"/>
<circle cx="492.3" cy="954.2" r="10.55" fill="#FFD985" stroke="#141414" stroke-width="1.95"/>
<circle cx="464.5" cy="966.2" r="10.55" fill="#FFD985" stroke="#141414" stroke-width="1.95"/>
<circle cx="502.8" cy="975.2" r="10.55" fill="#FFD985" stroke="#141414" stroke-width="1.95"/>
<circle cx="497.7" cy="978.3" r="10.55" fill="#FFD985" stroke="#141414" stroke-width="1.95"/>
<path d="M276.9 930.7L290.4 944.2L276.9 957.8L263.3 944.2Z" fill="#EE7A7E" stroke="#141414" stroke-width="1.9" stroke-linejoin="round"/>
<path d="M217.0 955.8L230.6 969.3L217.0 982.8L203.4 969.3Z" fill="#EE7A7E" stroke="#141414" stroke-width="1.9" stroke-linejoin="round"/>
<path d="M372.2 945.0L385.8 958.5L372.2 972.0L358.6 958.5Z" fill="#EE7A7E" stroke="#141414" stroke-width="1.9" stroke-linejoin="round"/>
<path d="M406.7 963.0L420.2 976.5L406.7 990.0L393.1 976.5Z" fill="#EE7A7E" stroke="#141414" stroke-width="1.9" stroke-linejoin="round"/>
<path d="M246.3 993.4L259.9 1006.9L246.3 1020.4L232.8 1006.9Z" fill="#EE7A7E" stroke="#141414" stroke-width="1.9" stroke-linejoin="round"/>
<path d="M262.6 992.0L276.2 1005.5L262.6 1019.0L249.1 1005.5Z" fill="#EE7A7E" stroke="#141414" stroke-width="1.9" stroke-linejoin="round"/>
<path d="M302.9 984.4L316.4 997.9L302.9 1011.4L289.3 997.9Z" fill="#EE7A7E" stroke="#141414" stroke-width="1.9" stroke-linejoin="round"/>
<path d="M439.9 934.6L453.4 948.1L439.9 961.6L426.3 948.1Z" fill="#EE7A7E" stroke="#141414" stroke-width="1.9" stroke-linejoin="round"/>
<path d="M449.8 952.7L463.4 966.2L449.8 979.8L436.2 966.2Z" fill="#EE7A7E" stroke="#141414" stroke-width="1.9" stroke-linejoin="round"/>
<path d="M441.3 971.1L454.9 984.6L441.3 998.1L427.8 984.6Z" fill="#EE7A7E" stroke="#141414" stroke-width="1.9" stroke-linejoin="round"/>
<circle cx="424.2" cy="1005.9" r="10.55" fill="#FFD985" stroke="#141414" stroke-width="1.95"/>
<circle cx="379.4" cy="1016.0" r="10.55" fill="#FFD985" stroke="#141414" stroke-width="1.95"/>
<path d="M391.2 990.8L404.8 1004.3L391.2 1017.8L377.6 1004.3Z" fill="#EE7A7E" stroke="#141414" stroke-width="1.9" stroke-linejoin="round"/>
<circle cx="473.0" cy="996.3" r="10.55" fill="#FFD985" stroke="#141414" stroke-width="1.95"/>
<circle cx="489.2" cy="995.8" r="10.55" fill="#FFD985" stroke="#141414" stroke-width="1.95"/>
<circle cx="501.0" cy="1013.5" r="10.55" fill="#FFD985" stroke="#141414" stroke-width="1.95"/>
<circle cx="475.7" cy="1007.2" r="10.55" fill="#FFD985" stroke="#141414" stroke-width="1.95"/>
<circle cx="489.2" cy="1018.0" r="10.55" fill="#FFD985" stroke="#141414" stroke-width="1.95"/>
<circle cx="522.7" cy="1007.2" r="10.55" fill="#FFD985" stroke="#141414" stroke-width="1.95"/>
<circle cx="517.2" cy="1009.9" r="10.55" fill="#FFD985" stroke="#141414" stroke-width="1.95"/>
<circle cx="520.0" cy="1023.4" r="10.55" fill="#FFD985" stroke="#141414" stroke-width="1.95"/>
<path d="M507.8 988.8L521.4 1002.3L507.8 1015.8L494.2 1002.3Z" fill="#EE7A7E" stroke="#141414" stroke-width="1.9" stroke-linejoin="round"/>
<path d="M848.0 652.1L861.5 665.6L848.0 679.1L834.5 665.6Z" fill="#EE7A7E" stroke="#141414" stroke-width="1.9" stroke-linejoin="round"/>
<circle cx="802.8" cy="835.3" r="10.55" fill="#FFD985" stroke="#141414" stroke-width="1.95"/>
<circle cx="892.3" cy="871.8" r="10.55" fill="#FFD985" stroke="#141414" stroke-width="1.95"/>
<circle cx="776.6" cy="882.7" r="10.55" fill="#FFD985" stroke="#141414" stroke-width="1.95"/>
<circle cx="767.1" cy="905.6" r="10.55" fill="#FFD985" stroke="#141414" stroke-width="1.95"/>
<circle cx="851.4" cy="913.4" r="10.55" fill="#FFD985" stroke="#141414" stroke-width="1.95"/>
<circle cx="871.6" cy="924.1" r="10.55" fill="#FFD985" stroke="#141414" stroke-width="1.95"/>
<circle cx="790.9" cy="936.1" r="10.55" fill="#FFD985" stroke="#141414" stroke-width="1.95"/>
<circle cx="708.7" cy="979.3" r="10.55" fill="#FFD985" stroke="#141414" stroke-width="1.95"/>
<circle cx="747.3" cy="1018.3" r="10.55" fill="#FFD985" stroke="#141414" stroke-width="1.95"/>
<circle cx="810.7" cy="1007.0" r="10.55" fill="#FFD985" stroke="#141414" stroke-width="1.95"/>
<circle cx="801.4" cy="1010.0" r="10.55" fill="#FFD985" stroke="#141414" stroke-width="1.95"/>
<path d="M865.7 932.5L879.2 946.0L865.7 959.5L852.2 946.0Z" fill="#EE7A7E" stroke="#141414" stroke-width="1.9" stroke-linejoin="round"/>
<path d="M775.4 963.8L788.9 977.3L775.4 990.8L761.9 977.3Z" fill="#EE7A7E" stroke="#141414" stroke-width="1.9" stroke-linejoin="round"/>
<circle cx="884.9" cy="975.9" r="10.55" fill="#FFD985" stroke="#141414" stroke-width="1.95"/>
<circle cx="903.6" cy="967.5" r="10.55" fill="#FFD985" stroke="#141414" stroke-width="1.95"/>
<circle cx="888.0" cy="997.6" r="10.55" fill="#FFD985" stroke="#141414" stroke-width="1.95"/>
<circle cx="884.9" cy="1017.5" r="10.55" fill="#FFD985" stroke="#141414" stroke-width="1.95"/>
<circle cx="904.2" cy="1012.7" r="10.55" fill="#FFD985" stroke="#141414" stroke-width="1.95"/>
<path d="M873.5 989.5L887.0 1003.0L873.5 1016.5L860.0 1003.0Z" fill="#EE7A7E" stroke="#141414" stroke-width="1.9" stroke-linejoin="round"/>
<path d="M898.8 993.1L912.3 1006.6L898.8 1020.1L885.2 1006.6Z" fill="#EE7A7E" stroke="#141414" stroke-width="1.9" stroke-linejoin="round"/>
<circle cx="981.3" cy="954.2" r="10.55" fill="#FFD985" stroke="#141414" stroke-width="1.95"/>
<path d="M965.1 945.5L978.6 959.0L965.1 972.5L951.6 959.0Z" fill="#EE7A7E" stroke="#141414" stroke-width="1.9" stroke-linejoin="round"/>
<path d="M939.2 994.2L952.8 1007.8L939.2 1021.3L925.7 1007.8Z" fill="#EE7A7E" stroke="#141414" stroke-width="1.9" stroke-linejoin="round"/>
<path d="M952.4 992.5L965.9 1006.0L952.4 1019.5L938.9 1006.0Z" fill="#EE7A7E" stroke="#141414" stroke-width="1.9" stroke-linejoin="round"/>
<path d="M962.0 981.7L975.5 995.2L962.0 1008.8L948.5 995.2Z" fill="#EE7A7E" stroke="#141414" stroke-width="1.9" stroke-linejoin="round"/>
<path d="M972.9 972.0L986.4 985.5L972.9 999.0L959.4 985.5Z" fill="#EE7A7E" stroke="#141414" stroke-width="1.9" stroke-linejoin="round"/>
<path d="M984.9 957.0L998.4 970.5L984.9 984.0L971.4 970.5Z" fill="#EE7A7E" stroke="#141414" stroke-width="1.9" stroke-linejoin="round"/>
<circle cx="994.6" cy="1001.2" r="10.55" fill="#FFD985" stroke="#141414" stroke-width="1.95"/>
<circle cx="997.0" cy="1007.2" r="10.55" fill="#FFD985" stroke="#141414" stroke-width="1.95"/>
<circle cx="984.3" cy="1007.8" r="10.55" fill="#FFD985" stroke="#141414" stroke-width="1.95"/>
<circle cx="1011.4" cy="1023.5" r="10.55" fill="#FFD985" stroke="#141414" stroke-width="1.95"/>
<path d="M1019.9 954.0L1033.5 967.5L1019.9 981.0L1006.4 967.5Z" fill="#EE7A7E" stroke="#141414" stroke-width="1.9" stroke-linejoin="round"/>
<path d="M1036.1 935.2L1049.6 948.8L1036.1 962.3L1022.5 948.8Z" fill="#EE7A7E" stroke="#141414" stroke-width="1.9" stroke-linejoin="round"/>
<path d="M1225.5 647.8L1239.0 661.3L1225.5 674.8L1212.0 661.3Z" fill="#EE7A7E" stroke="#141414" stroke-width="1.9" stroke-linejoin="round"/>
<circle cx="1215.0" cy="832.8" r="10.55" fill="#FFD985" stroke="#141414" stroke-width="1.95"/>
<circle cx="1227.9" cy="869.0" r="10.55" fill="#FFD985" stroke="#141414" stroke-width="1.95"/>
<circle cx="1227.9" cy="880.7" r="10.55" fill="#FFD985" stroke="#141414" stroke-width="1.95"/>
<circle cx="1278.8" cy="912.0" r="10.55" fill="#FFD985" stroke="#141414" stroke-width="1.95"/>
<circle cx="1291.1" cy="904.1" r="10.55" fill="#FFD985" stroke="#141414" stroke-width="1.95"/>
<circle cx="1259.0" cy="922.9" r="10.55" fill="#FFD985" stroke="#141414" stroke-width="1.95"/>
<circle cx="1225.3" cy="934.8" r="10.55" fill="#FFD985" stroke="#141414" stroke-width="1.95"/>
<circle cx="1205.1" cy="954.6" r="10.55" fill="#FFD985" stroke="#141414" stroke-width="1.95"/>
<circle cx="1229.7" cy="965.4" r="10.55" fill="#FFD985" stroke="#141414" stroke-width="1.95"/>
<circle cx="1189.7" cy="974.4" r="10.55" fill="#FFD985" stroke="#141414" stroke-width="1.95"/>
<circle cx="1185.7" cy="978.3" r="10.55" fill="#FFD985" stroke="#141414" stroke-width="1.95"/>
<path d="M1229.3 972.7L1242.8 986.2L1229.3 999.8L1215.8 986.2Z" fill="#EE7A7E" stroke="#141414" stroke-width="1.9" stroke-linejoin="round"/>
<path d="M1227.3 962.8L1240.8 976.3L1227.3 989.8L1213.8 976.3Z" fill="#EE7A7E" stroke="#141414" stroke-width="1.9" stroke-linejoin="round"/>
<circle cx="1185.7" cy="1009.0" r="10.55" fill="#FFD985" stroke="#141414" stroke-width="1.95"/>
<circle cx="1205.5" cy="1012.0" r="10.55" fill="#FFD985" stroke="#141414" stroke-width="1.95"/>
<circle cx="1213.5" cy="996.1" r="10.55" fill="#FFD985" stroke="#141414" stroke-width="1.95"/>
<circle cx="1245.1" cy="1006.0" r="10.55" fill="#FFD985" stroke="#141414" stroke-width="1.95"/>
<circle cx="1251.1" cy="1009.0" r="10.55" fill="#FFD985" stroke="#141414" stroke-width="1.95"/>
<circle cx="1237.2" cy="1007.0" r="10.55" fill="#FFD985" stroke="#141414" stroke-width="1.95"/>
<circle cx="1217.4" cy="1018.9" r="10.55" fill="#FFD985" stroke="#141414" stroke-width="1.95"/>
<circle cx="1227.3" cy="1007.0" r="10.55" fill="#FFD985" stroke="#141414" stroke-width="1.95"/>
<circle cx="1189.7" cy="1022.9" r="10.55" fill="#FFD985" stroke="#141414" stroke-width="1.95"/>
<path d="M1189.7 988.6L1203.2 1002.1L1189.7 1015.6L1176.2 1002.1Z" fill="#EE7A7E" stroke="#141414" stroke-width="1.9" stroke-linejoin="round"/>
<path d="M1278.8 952.9L1292.3 966.4L1278.8 979.9L1265.2 966.4Z" fill="#EE7A7E" stroke="#141414" stroke-width="1.9" stroke-linejoin="round"/>
<path d="M1297.6 944.6L1311.1 958.1L1297.6 971.6L1284.0 958.1Z" fill="#EE7A7E" stroke="#141414" stroke-width="1.9" stroke-linejoin="round"/>
<path d="M1302.2 990.6L1315.8 1004.1L1302.2 1017.6L1288.7 1004.1Z" fill="#EE7A7E" stroke="#141414" stroke-width="1.9" stroke-linejoin="round"/>
<path d="M1342.4 955.9L1356.0 969.4L1342.4 982.9L1328.9 969.4Z" fill="#EE7A7E" stroke="#141414" stroke-width="1.9" stroke-linejoin="round"/>
<path d="M1419.7 930.8L1433.2 944.3L1419.7 957.8L1406.2 944.3Z" fill="#EE7A7E" stroke="#141414" stroke-width="1.9" stroke-linejoin="round"/>
<circle cx="1352.9" cy="1016.5" r="10.55" fill="#FFD985" stroke="#141414" stroke-width="1.95"/>
<path d="M1351.3 993.5L1364.8 1007.0L1351.3 1020.5L1337.8 1007.0Z" fill="#EE7A7E" stroke="#141414" stroke-width="1.9" stroke-linejoin="round"/>
<path d="M1383.6 984.7L1397.1 998.2L1383.6 1011.8L1370.0 998.2Z" fill="#EE7A7E" stroke="#141414" stroke-width="1.9" stroke-linejoin="round"/>
<path d="M1517.6 992.2L1531.1 1005.7L1517.6 1019.2L1504.0 1005.7Z" fill="#EE7A7E" stroke="#141414" stroke-width="1.9" stroke-linejoin="round"/>
<rect x="324" y="20.7" width="219.2" height="96.8" fill="#fff" stroke="#111111" stroke-width="1.9"/>
<path d="M347.7 29.2L360.8 42.3L347.7 55.4L334.6 42.3Z" fill="#FF858A" stroke="#231815" stroke-width="2.6"/>
<circle cx="347.7" cy="95.8" r="10.6" fill="#FFD985" stroke="#231815" stroke-width="2.5"/>
<text x="377.2" y="56.5" font-size="39.1">defective</text>
<text x="377.2" y="110.1" font-size="39.1">intact</text>
<line x1="945.4" y1="469.6" x2="952.9" y2="447.2" stroke="#141414" stroke-width="2.0"/>
<line x1="952.9" y1="469.6" x2="960.2" y2="447.0" stroke="#141414" stroke-width="2.0"/>
</svg>
</body></html>
